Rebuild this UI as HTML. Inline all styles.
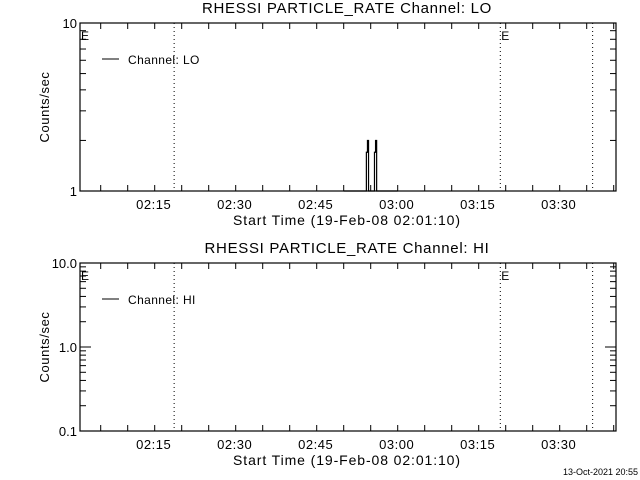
<!DOCTYPE html>
<html><head><meta charset="utf-8"><style>
body{margin:0;background:#fff}
svg{display:block}
text{font-family:"Liberation Sans",sans-serif;fill:#000}
</style></head><body>
<svg id="c" width="640" height="480" viewBox="0 0 640 480" xmlns="http://www.w3.org/2000/svg"></svg>
<script>
// data (time in minutes after 02:00)
const loTimes = [50.0, 54.0, 54.2, 54.4, 54.6, 55.5, 55.7, 55.9, 56.1, 60.0];
const loValues = [1.0, 1.0, 1.7, 2.0, 1.0, 1.0, 1.7, 2.0, 1.0, 1.0];
const hiTimes = [];
const hiValues = [];
const eventTimes = [18.6, 79.0, 96.1];
const xTickTimes = [15, 30, 45, 60, 75, 90];
const xTickLabels = ["02:15", "02:30", "02:45", "03:00", "03:15", "03:30"];
const loYTicks = [1, 10];
const loYLabels = ["1", "10"];
const hiYTicks = [0.1, 1, 10];
const hiYLabels = ["0.1", "1.0", "10.0"];

const NS = "http://www.w3.org/2000/svg";
const svg = document.getElementById('c');
function el(tag, attrs, parent, txt){
  const e = document.createElementNS(NS, tag);
  for (const k in attrs) e.setAttribute(k, attrs[k]);
  if (txt !== undefined) e.textContent = txt;
  (parent || svg).appendChild(e);
  return e;
}
const X0 = 80, X1 = 616, T0 = 1 + 10/60, T1 = T0 + (X1 - X0) / 5.4;
function xs(t){ return X0 + (t - T0) / (T1 - T0) * (X1 - X0); }

function panel(name, top, bot, ymin, ymax, yt, yl, times, vals, legend, title){
  const g = el('g', {});
  
  
  const ys = v => bot - (Math.log10(v) - Math.log10(ymin)) / (Math.log10(ymax) - Math.log10(ymin)) * (bot - top);
  const t = el('text', {x: 347, y: top - 10, 'text-anchor': 'middle', 'font-size': 15, 'letter-spacing': 0.7}, g, title);
  
  
  const box = el('rect', {x: X0, y: top, width: X1 - X0, height: bot - top, fill: 'none', stroke: '#000', 'stroke-width': 1.2}, g);
  
  
  for (let d = Math.round(Math.log10(ymin)); d < Math.round(Math.log10(ymax)); d++) {
    for (let m = 2; m <= 9; m++) {
      const y = ys(m * Math.pow(10, d));
      el('line', {x1: X0, x2: X0 + 6, y1: y, y2: y, stroke: '#000'}, g);
      el('line', {x1: X1, x2: X1 - 6, y1: y, y2: y, stroke: '#000'}, g);
    }
  }
  yt.forEach((v, i) => {
    const y = ys(v);
    el('line', {x1: X0, x2: X0 + 11, y1: y, y2: y, stroke: '#000'}, g);
    el('line', {x1: X1, x2: X1 - 11, y1: y, y2: y, stroke: '#000'}, g);
    const lb = el('text', {x: X0 - 3, y: y + 5, 'text-anchor': 'end', 'font-size': 13}, g, yl[i]);
    
    
  });
  for (let m = 5; m < T1; m += 5) {
    const x = xs(m);
    if (x <= X0) continue;
    el('line', {x1: x, x2: x, y1: bot, y2: bot - 6, stroke: '#000'}, g);
    el('line', {x1: x, x2: x, y1: top, y2: top + 6, stroke: '#000'}, g);
  }
  xTickTimes.forEach((tm, i) => {
    const lb = el('text', {x: xs(tm) - 1, y: bot + 18, 'text-anchor': 'middle', 'font-size': 13, 'letter-spacing': 0.5}, g, xTickLabels[i]);
    
    
  });
  const xt = el('text', {x: 347, y: bot + 34, 'text-anchor': 'middle', 'font-size': 14, 'letter-spacing': 0.9}, g, 'Start Time (19-Feb-08 02:01:10)');
  
  
  const cy = (top + bot) / 2;
  const yti = el('text', {x: 49, y: cy, 'text-anchor': 'middle', 'font-size': 13, 'letter-spacing': 0.6, transform: 'rotate(-90 49 ' + cy + ')'}, g, 'Counts/sec');
  
  
  eventTimes.forEach(tm => {
    const x = xs(tm);
    const ln = el('line', {x1: x, x2: x, y1: top, y2: bot, stroke: '#000', 'stroke-dasharray': '1,3'}, g);
    
    
  });
  [X0 + 1, xs(eventTimes[1]) + 1].forEach(x => {
    const e = el('text', {x: x, y: top + 17, 'font-size': 12}, g, 'E');
    
    
  });
  if (times.length) {
    const pts = [];
    times.forEach((tm, i) => {
      if (i > 0) pts.push(xs(tm) + ',' + ys(vals[i - 1]));
      pts.push(xs(tm) + ',' + ys(vals[i]));
    });
    const pl = el('polyline', {points: pts.join(' '), fill: 'none', stroke: '#000', 'stroke-width': 1.2}, g);
    
    
  }
  const lg = el('g', {}, g);
  
  
  el('line', {x1: 102, x2: 119, y1: top + 36, y2: top + 36, stroke: '#000'}, lg);
  el('text', {x: 128, y: top + 41, 'font-size': 12, 'letter-spacing': 0.4}, lg, legend);
}
panel('lo', 23, 191, 1, 10, loYTicks, loYLabels, loTimes, loValues, 'Channel: LO', 'RHESSI PARTICLE_RATE Channel: LO');
panel('hi', 263, 431, 0.1, 10, hiYTicks, hiYLabels, hiTimes, hiValues, 'Channel: HI', 'RHESSI PARTICLE_RATE Channel: HI');
const ts = el('text', {x: 638, y: 475, 'text-anchor': 'end', 'font-size': 9}, svg, '13-Oct-2021 20:55');


</script>
</body></html>
